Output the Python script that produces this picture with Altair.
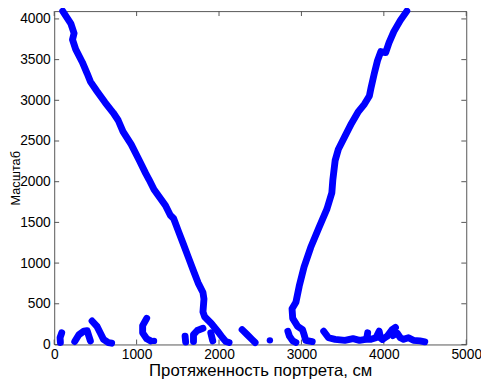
import altair as alt
import pandas as pd

# ---- data ----
x_ticks = [0, 1000, 2000, 3000, 4000, 5000]
y_ticks = [0, 500, 1000, 1500, 2000, 2500, 3000, 3500, 4000]

seg_left = [(103, 4096), (202, 3943), (241, 3824), (222, 3745), (261, 3626), (341, 3468),
            (400, 3329), (439, 3230), (519, 3112), (618, 2973), (716, 2847), (776, 2755),
            (835, 2616), (934, 2458), (1033, 2260), (1110, 2102), (1152, 2023), (1211, 1904),
            (1350, 1707), (1409, 1588), (1449, 1548), (1508, 1390), (1568, 1232), (1627, 1073),
            (1686, 914), (1746, 757), (1805, 638), (1817, 558), (1805, 400), (1825, 341),
            (1904, 261), (1983, 163), (2043, 83), (2082, 36), (2122, 24)]
seg_right = [(4279, 4096), (4200, 3982), (4121, 3844), (4062, 3705), (4022, 3587), (3963, 3599),
             (3923, 3488), (3884, 3329), (3844, 3151), (3824, 3052), (3765, 2954), (3686, 2854),
             (3607, 2716), (3527, 2557), (3448, 2399), (3409, 2260), (3381, 2023), (3369, 1865),
             (3310, 1666), (3210, 1429), (3112, 1191), (3032, 954), (2973, 716), (2933, 519),
             (2886, 439), (2894, 321), (2954, 222), (3013, 182), (3032, 122), (3052, 51),
             (3131, 36)]
seg_s1 = [(91, 143), (71, 83), (75, 24)]
seg_s2 = [(249, 36), (301, 122), (360, 163), (400, 170), (420, 103), (439, 44)]
seg_s3 = [(459, 289), (519, 222), (558, 143), (598, 63), (657, 24), (697, 16)]
seg_s4 = [(1122, 321), (1073, 232), (1073, 143), (1122, 70), (1170, 44)]
seg_s5 = [(1588, 103), (1595, 30)]
seg_s6 = [(1690, 36), (1690, 122), (1736, 172), (1805, 200)]
seg_s7 = [(1900, 143), (1924, 44)]
seg_s8 = [(2280, 182), (2340, 122), (2399, 63), (2438, 24)]
seg_s9 = [(2835, 163), (2854, 103), (2894, 44), (2933, 24)]
seg_s10 = [(3270, 163), (3329, 83), (3409, 63), (3527, 51), (3626, 71), (3705, 51), (3760, 60)]
seg_s11 = [(3804, 143), (3790, 63), (3844, 63), (3904, 83), (3943, 163), (3960, 80), (3982, 63)]
seg_s12 = [(3982, 63), (4042, 103), (4101, 182), (4141, 209)]
seg_s13 = [(4110, 110), (4161, 140), (4200, 83), (4240, 63), (4299, 83), (4359, 51),
           (4438, 44), (4497, 32)]
dots = [(1211, 44), (2617, 51)]

segments = {"left": seg_left, "right": seg_right, "s1": seg_s1, "s2": seg_s2, "s3": seg_s3,
            "s4": seg_s4, "s5": seg_s5, "s6": seg_s6, "s7": seg_s7, "s8": seg_s8,
            "s9": seg_s9, "s10": seg_s10, "s11": seg_s11, "s12": seg_s12, "s13": seg_s13}

rows = []
for name, pts in segments.items():
    for i, (x, y) in enumerate(pts):
        rows.append({"seg": name, "o": i, "x": x, "y": y})
df = pd.DataFrame(rows)
df_dots = pd.DataFrame(dots, columns=["x", "y"])
df_xt = pd.DataFrame({"v": x_ticks})
df_yt = pd.DataFrame({"v": y_ticks})

# ---- styling ----
W, H = 419, 339
BLUE = "#0000ff"
FRAME = "#555555"
FONT = "Liberation Sans"
TL = 5

xscale = alt.Scale(domain=[0, 5000], nice=False, zero=False)
yscale = alt.Scale(domain=[0, 4096], nice=False, zero=False)

xaxis = alt.Axis(values=x_ticks, ticks=False, domain=False, grid=False, format="d",
                 labelFont=FONT, labelFontSize=14, labelColor="black", labelPadding=3,
                 labelFlush=False, labelOverlap=False,
                 title="Протяженность портрета, см", titleFont=FONT, titleFontSize=17,
                 titleFontWeight="normal", titleColor="black", titlePadding=2)
yaxis = alt.Axis(values=y_ticks, ticks=False, domain=False, grid=False, format="d",
                 labelFont=FONT, labelFontSize=14, labelColor="black", labelPadding=4,
                 labelFlush=False, labelOverlap=False,
                 title="Масштаб", titleFont=FONT, titleFontSize=13,
                 titleFontWeight="normal", titleColor="black",
                 titleX=-39, titleY=H / 2, titleAngle=270, titleAlign="center",
                 titleBaseline="middle")

lines = alt.Chart(df).mark_line(color=BLUE, strokeWidth=7, strokeCap="round",
                                strokeJoin="round").encode(
    x=alt.X("x:Q", scale=xscale, axis=xaxis),
    y=alt.Y("y:Q", scale=yscale, axis=yaxis),
    detail="seg:N",
    order="o:Q",
)
pts = alt.Chart(df_dots).mark_circle(color=BLUE, size=42, opacity=1).encode(
    x=alt.X("x:Q", scale=xscale, axis=xaxis),
    y=alt.Y("y:Q", scale=yscale, axis=yaxis),
)

xt_bottom = alt.Chart(df_xt).mark_rule(color=FRAME, strokeWidth=1).encode(
    x=alt.X("v:Q", scale=xscale, axis=xaxis), y=alt.value(H), y2=alt.value(H - TL))
xt_top = alt.Chart(df_xt).mark_rule(color=FRAME, strokeWidth=1).encode(
    x=alt.X("v:Q", scale=xscale, axis=xaxis), y=alt.value(0), y2=alt.value(TL))
yt_left = alt.Chart(df_yt).mark_rule(color=FRAME, strokeWidth=1).encode(
    y=alt.Y("v:Q", scale=yscale, axis=yaxis), x=alt.value(0), x2=alt.value(TL))
yt_right = alt.Chart(df_yt).mark_rule(color=FRAME, strokeWidth=1).encode(
    y=alt.Y("v:Q", scale=yscale, axis=yaxis), x=alt.value(W - TL), x2=alt.value(W))

chart = alt.layer(xt_bottom, xt_top, yt_left, yt_right, lines, pts).properties(
    width=W, height=H,
    autosize=alt.AutoSizeParams(type="none"),
    padding={"left": 47, "top": 0, "right": 15, "bottom": 35},
    background="white",
).configure_view(stroke=FRAME, strokeWidth=1)

chart.save("out.html", embed_options={"renderer": "svg", "actions": False})
